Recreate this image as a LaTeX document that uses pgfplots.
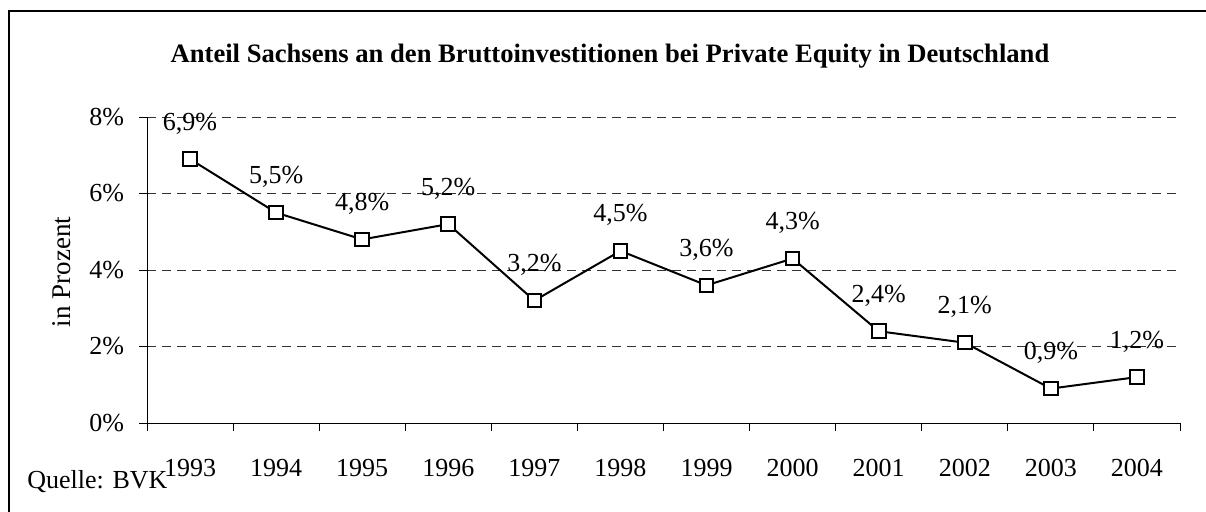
\documentclass[border=0pt]{standalone}
\usepackage{pgfplots}
\pgfplotsset{compat=1.18}
\usepackage{pgfplotstable}
\usepackage{fontspec}
\setmainfont{Liberation Serif}
\pgfplotstableread{
x year val label
0 1993 6.9 {6,9\%}
1 1994 5.5 {5,5\%}
2 1995 4.8 {4,8\%}
3 1996 5.2 {5,2\%}
4 1997 3.2 {3,2\%}
5 1998 4.5 {4,5\%}
6 1999 3.6 {3,6\%}
7 2000 4.3 {4,3\%}
8 2001 2.4 {2,4\%}
9 2002 2.1 {2,1\%}
10 2003 0.9 {0,9\%}
11 2004 1.2 {1,2\%}
}\datatable
\newcommand{\lbl}{\fontsize{13}{15.5}\selectfont}
\begin{document}
\begin{tikzpicture}
\useasboundingbox (0pt,0pt) rectangle (603pt,255.5pt);
\clip (0pt,0pt) rectangle (603pt,255.5pt);
\fill[white] (0pt,0pt) rectangle (603pt,255.5pt);
\draw[line width=1.1pt] (4.5pt,-10pt) -- (4.5pt,250pt) -- (615pt,250pt);
\begin{axis}[
  at={(73.5pt,44pt)}, anchor=south west,
  scale only axis, width=516.5pt, height=153pt,
  xmin=-0.5, xmax=11.5, ymin=0, ymax=8,
  axis x line=bottom, axis y line=left,
  axis line style={-, line width=0.5pt},
  xtick={0,...,11},
  xticklabels={1993,1994,1995,1996,1997,1998,1999,2000,2001,2002,2003,2004},
  minor xtick={-0.5,0.5,...,11.5},
  major x tick style={draw=none},
  minor tick length=4pt,
  minor x tick style={line width=0.5pt, black},
  ytick={0,2,4,6,8},
  yticklabels={0\%,2\%,4\%,6\%,8\%},
  tick align=outside,
  major tick length=4pt,
  y tick style={line width=0.5pt, black},
  ymajorgrids,
  grid style={dash pattern=on 4.5pt off 3pt, line width=0.5pt, black!80},
  xticklabel style={font=\lbl, yshift=-10.5pt},
  yticklabel style={font=\lbl, xshift=-4pt},
  /pgf/number format/assume math mode=true,
  clip=false,
  nodes near coords,
  point meta=explicit symbolic,
  every node near coord/.append style={font=\lbl, anchor=base, yshift=14.5pt},
]
\addplot[black, line width=1pt, mark=square*, mark size=3.4pt,
  mark options={fill=white, draw=black, line width=1pt}]
  table[x=x, y=val, meta=label] {\datatable};
\end{axis}
\node[font=\fontsize{13.3}{16}\selectfont\bfseries, anchor=base] at (305pt,224.5pt) {Anteil Sachsens an den Bruttoinvestitionen bei Private Equity in Deutschland};
\node[rotate=90, font=\fontsize{13.5}{16}\selectfont] at (31pt,119.5pt) {in Prozent};
\node[anchor=base west, font=\lbl, inner sep=0pt] at (13.5pt,11.5pt) {Quelle: BVK};
\end{tikzpicture}
\end{document}
